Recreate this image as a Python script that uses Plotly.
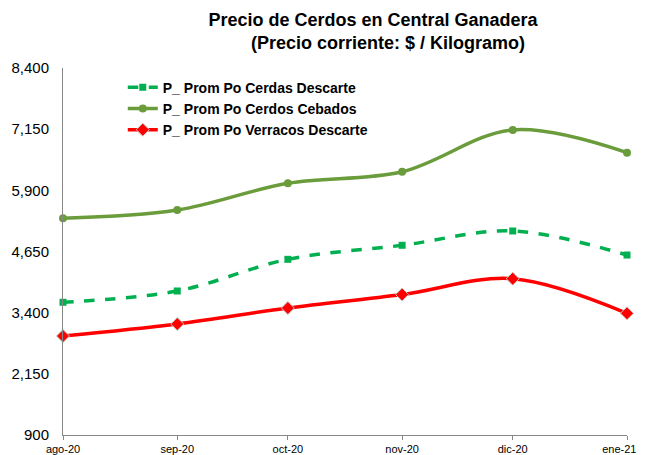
import plotly.graph_objects as go

months = ["2020-08-01", "2020-09-01", "2020-10-01", "2020-11-01", "2020-12-01", "2021-01-01"]
month_labels = ["ago-20", "sep-20", "oct-20", "nov-20", "dic-20", "ene-21"]

cerdas_descarte = [3612, 3843, 4490, 4777, 5069, 4578]
cerdos_cebados = [5330, 5498, 6045, 6280, 7135, 6670]
verracos_descarte = [2923, 3168, 3495, 3770, 4094, 3387]

y_ticks = [900, 2150, 3400, 4650, 5900, 7150, 8400]

# pad the last label so it is not clipped at the right page edge
tick_text = month_labels[:-1] + [month_labels[-1] + "&nbsp;" * 5]

fig = go.Figure()
fig.add_trace(go.Scatter(
    x=months, y=cerdas_descarte, name="<b>P_ Prom Po Cerdas Descarte</b>",
    mode="lines+markers", line=dict(color="#00B050", width=3.5, dash="dash", shape="spline"),
    marker=dict(symbol="square", size=7, color="#00B050"), cliponaxis=False))
fig.add_trace(go.Scatter(
    x=months, y=cerdos_cebados, name="<b>P_ Prom Po Cerdos Cebados</b>",
    mode="lines+markers", line=dict(color="#6A9C3C", width=3.5, shape="spline"),
    marker=dict(symbol="circle", size=8, color="#6A9C3C"), cliponaxis=False))
fig.add_trace(go.Scatter(
    x=months, y=verracos_descarte, name="<b>P_ Prom Po Verracos Descarte</b>",
    mode="lines+markers", line=dict(color="#FF0000", width=3.5, shape="spline"),
    marker=dict(symbol="diamond", size=10, color="#FF0000", line=dict(color="#C8C8C8", width=1)),
    cliponaxis=False))

fig.update_layout(
    width=637, height=447,
    margin=dict(l=55, r=18, t=60, b=20),
    paper_bgcolor="white", plot_bgcolor="white",
    font=dict(family="Liberation Sans, Arial, sans-serif", color="#000000"),
    title=dict(
        text="<b>Precio de Cerdos en Central Ganadera</b><br><b>&nbsp;&nbsp;&nbsp;&nbsp;&nbsp;&nbsp;(Precio corriente: $ / Kilogramo)</b>",
        x=0.573, xanchor="center", xref="container", yref="container", y=0.96, yanchor="top",
        font=dict(size=18, family="Liberation Sans, Arial, sans-serif")),
    showlegend=True,
    legend=dict(
        x=0.106, y=0.99, xanchor="left", yanchor="top",
        bgcolor="rgba(0,0,0,0)",
        font=dict(size=14, family="Liberation Sans, Arial, sans-serif"),
        tracegroupgap=0, itemwidth=30),
    xaxis=dict(
        type="date", range=["2020-08-01", "2021-01-01"],
        tickvals=months, ticktext=tick_text, automargin=False,
        ticklabeloverflow="allow",
        showline=True, linecolor="#888888", linewidth=1,
        ticks="outside", ticklen=4, tickcolor="#888888",
        showgrid=False, zeroline=False,
        tickfont=dict(size=11)),
    yaxis=dict(
        range=[900, 8400], tickvals=y_ticks, tickformat=",d", automargin=False,
        showline=True, linecolor="#888888", linewidth=1,
        ticks="", showgrid=False, zeroline=False,
        ticklabelstandoff=10,
        tickfont=dict(size=15)),
)

fig.write_html("out.html")
